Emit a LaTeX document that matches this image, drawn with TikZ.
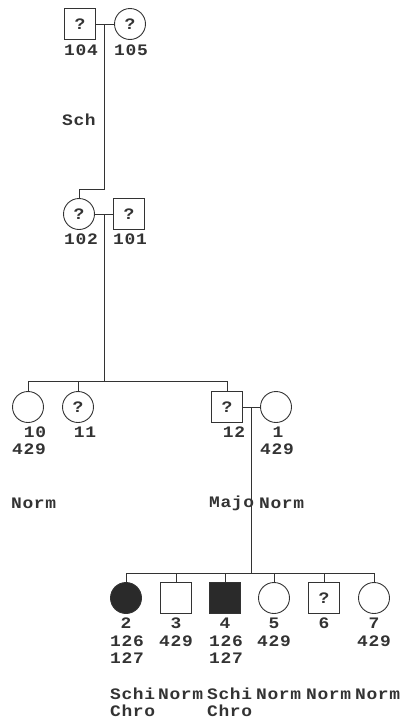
\documentclass[tikz,border=0pt]{standalone}
\usepackage{fontspec}
\usepackage{tikz}
\usetikzlibrary{positioning,calc}
\newfontfamily\pedfont[FakeStretch=1.12,LetterSpace=4.0]{Liberation Mono}
\definecolor{pline}{HTML}{333333}
\definecolor{pfill}{HTML}{2A2A2A}
\newcommand{\pedtext}{\pedfont\bfseries\fontsize{16}{16}\selectfont}
\tikzset{
  male/.style={draw=pline, line width=0.9pt, minimum size=31pt, inner sep=0pt, font=\pedtext, text=pline},
  female/.style={male, circle},
  affected/.style={fill=pfill},
  idnum/.style={font=\pedtext, text=pline, inner sep=0pt},
  trait/.style={idnum, anchor=west},
  link/.style={draw=pline, line width=0.9pt},
}
% rows (pixels, y grows downwards)
\def\yA{24}
\def\yB{214}
\def\yC{407}
\def\yD{598}
% child hangs from a sibship line
\newcommand{\kid}[2]{\draw[link] (#1.north |- #2) -- (#1.north);}

\begin{document}
\begin{tikzpicture}[x=1pt, y=-1pt]
  \useasboundingbox (0,0) rectangle (403,723);
  % generation I
  \node[male] (p104) at (80,\yA) {?};
  \node[female] (p105) at (130,\yA) {?};
  \node[idnum] at (81,50) {104};
  \node[idnum] at (131,50) {105};
  \node[trait] at (62,120) {Sch};
  \coordinate (m1) at (104,\yA);
  \coordinate (d1) at (104,189);
  % generation II
  \node[female] (p102) at (79,\yB) {?};
  \node[male] (p101) at (129,\yB) {?};
  \node[idnum] at (81,239) {102};
  \node[idnum] at (130,239) {101};
  \coordinate (m2) at (104,\yB);
  \coordinate (sib3) at (104,381);
  % generation III
  \node[female] (p10) at (28,\yC) {};
  \node[female] (p11) at (78,\yC) {?};
  \node[male] (p12) at (227,\yC) {?};
  \node[female] (p1) at (276,\yC) {};
  \node[idnum] at (35,432) {10};
  \node[idnum] at (29,449) {429};
  \node[idnum] at (85,432) {11};
  \node[idnum] at (234,432) {12};
  \node[idnum] at (278,432) {1};
  \node[idnum] at (277,449) {429};
  \node[trait] at (11,503) {Norm};
  \node[trait] at (209,503) {Majo};
  \node[trait] at (259,503) {Norm};
  \coordinate (m3) at (251,\yC);
  \coordinate (sib4) at (251,573);
  % generation IV
  \node[female, affected] (p2) at (126,\yD) {};
  \node[male] (p3) at (176,\yD) {};
  \node[male, affected] (p4) at (225,\yD) {};
  \node[female] (p5) at (274,\yD) {};
  \node[male] (p6) at (324,\yD) {?};
  \node[female] (p7) at (374,\yD) {};
  \node[idnum] at (126,623) {2};
  \node[idnum] at (176,623) {3};
  \node[idnum] at (225,623) {4};
  \node[idnum] at (274,623) {5};
  \node[idnum] at (324,623) {6};
  \node[idnum] at (374,623) {7};
  \node[idnum] at (127,641) {126};
  \node[idnum] at (176,641) {429};
  \node[idnum] at (226,641) {126};
  \node[idnum] at (274,641) {429};
  \node[idnum] at (374,641) {429};
  \node[idnum] at (127,658) {127};
  \node[idnum] at (226,658) {127};
  \node[trait] at (110,694) {Schi};
  \node[trait] at (158,694) {Norm};
  \node[trait] at (207,694) {Schi};
  \node[trait] at (256,694) {Norm};
  \node[trait] at (306,694) {Norm};
  \node[trait] at (355,694) {Norm};
  \node[trait] at (110,711) {Chro};
  \node[trait] at (207,711) {Chro};
  % connectors
  \draw[link] (p104) -- (p105);
  \draw[link] (m1) -- (d1) -| (p102.north);
  \draw[link] (p102) -- (p101);
  \draw[link] (m2) -- (sib3);
  \draw[link] (p10.north |- sib3) -- (p12.north |- sib3);
  \kid{p10}{sib3} \kid{p11}{sib3} \kid{p12}{sib3}
  \draw[link] (p12) -- (p1);
  \draw[link] (m3) -- (sib4);
  \draw[link] (p2.north |- sib4) -- (p7.north |- sib4);
  \kid{p2}{sib4} \kid{p3}{sib4} \kid{p4}{sib4} \kid{p5}{sib4} \kid{p6}{sib4} \kid{p7}{sib4}
\end{tikzpicture}
\end{document}
